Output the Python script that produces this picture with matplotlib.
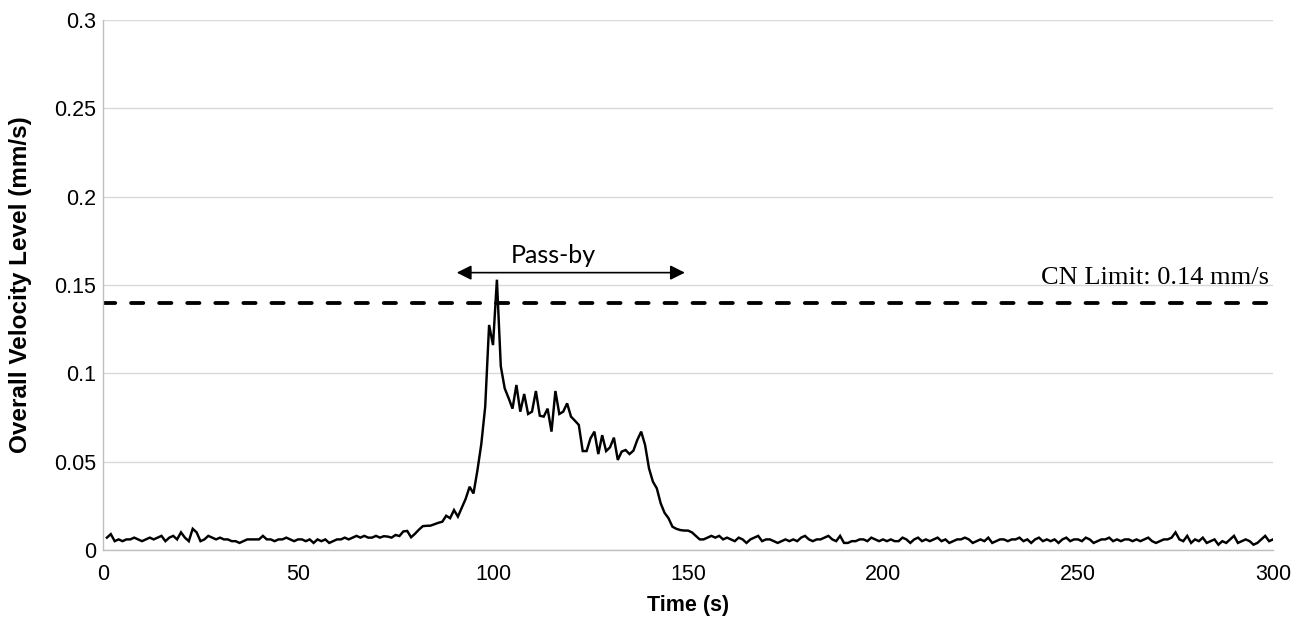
import numpy as np
import matplotlib
matplotlib.use("Agg")
import matplotlib.pyplot as plt

# Overall velocity level (mm/s), one sample per second, t = 1..300
baseline_start = [0.007, 0.009, 0.005, 0.006, 0.005, 0.006, 0.006, 0.007, 0.006, 0.005,
                  0.006, 0.007, 0.006, 0.007, 0.008, 0.005, 0.007, 0.008, 0.006, 0.010,
                  0.007, 0.005, 0.012, 0.010, 0.005, 0.006, 0.008, 0.007, 0.006, 0.007,
                  0.006, 0.006, 0.005, 0.005, 0.004, 0.005, 0.006, 0.006, 0.006, 0.006,
                  0.008, 0.006, 0.006, 0.005, 0.006, 0.006, 0.007, 0.006, 0.005, 0.006,
                  0.006, 0.005, 0.006, 0.004, 0.006, 0.005, 0.006, 0.004, 0.005, 0.006,
                  0.006, 0.007, 0.006, 0.007, 0.008, 0.007, 0.008, 0.007, 0.007, 0.008]
pass_by_event = [0.0070, 0.0078, 0.0076, 0.0070, 0.0085, 0.0079, 0.0105, 0.0108, 0.0072, 0.0092,
                 0.0115, 0.0135, 0.0137, 0.0138, 0.0146, 0.0154, 0.0160, 0.0194, 0.0180, 0.0226,
                 0.0189, 0.0240, 0.0290, 0.0358, 0.0320, 0.0450, 0.0600, 0.0811, 0.1274, 0.1160,
                 0.1530, 0.1040, 0.0915, 0.0860, 0.0800, 0.0934, 0.0783, 0.0883, 0.0770, 0.0783,
                 0.0900, 0.0760, 0.0755, 0.0800, 0.0670, 0.0900, 0.0770, 0.0783, 0.0830, 0.0755,
                 0.0732, 0.0708, 0.0560, 0.0560, 0.0632, 0.0670, 0.0543, 0.0650, 0.0560, 0.0581,
                 0.0636, 0.0510, 0.0557, 0.0566, 0.0543, 0.0562, 0.0623, 0.0670, 0.0594, 0.0462,
                 0.0387, 0.0349, 0.0264, 0.0210, 0.0180, 0.0132, 0.0120, 0.0113]
baseline_end = [0.011, 0.011, 0.010, 0.008, 0.006, 0.006, 0.007, 0.008, 0.007, 0.008,
                0.006, 0.007, 0.006, 0.005, 0.007, 0.006, 0.004, 0.006, 0.007, 0.008,
                0.005, 0.006, 0.006, 0.005, 0.004, 0.005, 0.006, 0.005, 0.006, 0.005,
                0.007, 0.008, 0.006, 0.005, 0.006, 0.006, 0.007, 0.008, 0.006, 0.005,
                0.008, 0.004, 0.004, 0.005, 0.005, 0.006, 0.006, 0.005, 0.007, 0.006,
                0.005, 0.006, 0.005, 0.006, 0.005, 0.005, 0.007, 0.006, 0.004, 0.006,
                0.007, 0.005, 0.006, 0.005, 0.006, 0.007, 0.005, 0.006, 0.004, 0.005,
                0.006, 0.006, 0.007, 0.006, 0.004, 0.005, 0.006, 0.005, 0.007, 0.004,
                0.005, 0.006, 0.006, 0.005, 0.006, 0.006, 0.007, 0.005, 0.006, 0.004,
                0.006, 0.007, 0.005, 0.006, 0.005, 0.006, 0.004, 0.006, 0.007, 0.005,
                0.006, 0.006, 0.005, 0.007, 0.006, 0.004, 0.005, 0.006, 0.006, 0.007,
                0.005, 0.006, 0.005, 0.006, 0.006, 0.005, 0.006, 0.005, 0.006, 0.007,
                0.005, 0.004, 0.005, 0.006, 0.006, 0.007, 0.010, 0.006, 0.005, 0.008,
                0.004, 0.006, 0.005, 0.007, 0.004, 0.005, 0.006, 0.003, 0.005, 0.004,
                0.006, 0.008, 0.004, 0.005, 0.006, 0.005, 0.003, 0.004, 0.006, 0.008,
                0.005, 0.006]
velocity = baseline_start + pass_by_event + baseline_end
time_s = list(range(1, len(velocity) + 1))

cn_limit = 0.14
cn_label = "CN Limit: 0.14 mm/s"
pass_by_start, pass_by_end = 90.7, 149.2
pass_by_text_x = 115.4
pass_by_label = "Pass-by"

x_ticks = [0, 50, 100, 150, 200, 250, 300]
y_ticks = [0, 0.05, 0.1, 0.15, 0.2, 0.25, 0.3]
y_tick_labels = ["0", "0.05", "0.1", "0.15", "0.2", "0.25", "0.3"]

plt.rcParams['font.family'] = ['Liberation Sans', 'DejaVu Sans']

fig = plt.figure(figsize=(13.07, 6.25), dpi=100)
ax = fig.add_axes([103 / 1307, 75 / 625, 1170 / 1307, 530 / 625])

ax.plot(time_s, velocity, color='black', lw=1.75, solid_joinstyle='miter', zorder=3)
ax.axhline(cn_limit, color='black', lw=2.75, dashes=(3.2, 4.15),
           dash_capstyle='round', zorder=2)
ax.text(299.0, 0.1503, cn_label, ha='right', va='baseline',
        fontsize=19, family=['Liberation Serif', 'DejaVu Serif'])

ax.annotate('', xy=(pass_by_start, 0.157), xytext=(pass_by_end, 0.157),
            arrowprops=dict(arrowstyle='<|-|>', color='black', lw=1.2,
                            mutation_scale=22, shrinkA=0, shrinkB=0))
ax.text(pass_by_text_x, 0.1665, pass_by_label, ha='center',
        va='center', fontsize=18, family=['Lato', 'DejaVu Sans'])

ax.set_xlim(0, 300)
ax.set_ylim(0, 0.3)
ax.set_xticks(x_ticks)
ax.set_yticks(y_ticks)
ax.set_yticklabels(y_tick_labels)
ax.tick_params(axis='both', length=0, labelsize=15.5)
ax.tick_params(axis='x', pad=10)
ax.tick_params(axis='y', pad=5)
ax.grid(axis='y', color='#d9d9d9', lw=1.0, zorder=0)
ax.set_axisbelow(True)
for s in ['top', 'right']:
    ax.spines[s].set_visible(False)
for s in ['left', 'bottom']:
    ax.spines[s].set_color('#bfbfbf')
    ax.spines[s].set_linewidth(1.0)

ax.set_xlabel('Time (s)', fontsize=15.5, fontweight='bold')
ax.xaxis.set_label_coords(0.5, -0.085)
ax.set_ylabel('Overall Velocity Level (mm/s)', fontsize=17.5, fontweight='bold')
ax.yaxis.set_label_coords(-0.061, 0.5)

fig.savefig('out.png', dpi=100)
